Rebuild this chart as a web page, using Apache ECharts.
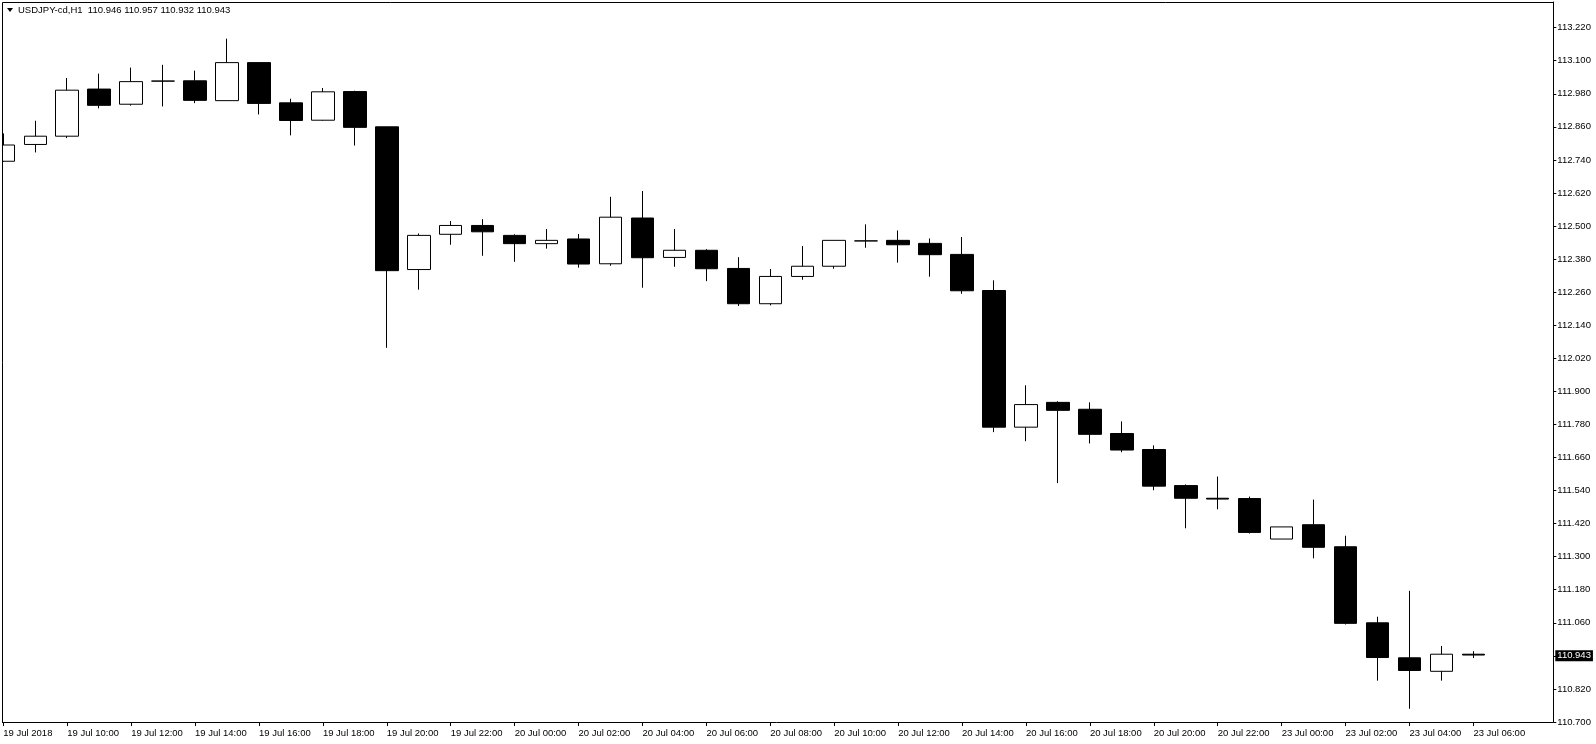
<!DOCTYPE html>
<html>
<head>
<meta charset="utf-8">
<style>
  html, body { margin: 0; padding: 0; background: #fff; }
  #chart { width: 1596px; height: 744px; }
</style>
<script src="https://cdn.jsdelivr.net/npm/echarts@6/dist/echarts.min.js"></script>
</head>
<body>
<div id="chart"></div>
<script>
// ---- data (USDJPY-cd, H1) ----
const symbolTitle = 'USDJPY-cd,H1';
const firstLabel = '19 Jul 2018';
const times = [
  '19 Jul 08:00','19 Jul 09:00','19 Jul 10:00','19 Jul 11:00','19 Jul 12:00','19 Jul 13:00','19 Jul 14:00','19 Jul 15:00',
  '19 Jul 16:00','19 Jul 17:00','19 Jul 18:00','19 Jul 19:00','19 Jul 20:00','19 Jul 21:00','19 Jul 22:00','19 Jul 23:00',
  '20 Jul 00:00','20 Jul 01:00','20 Jul 02:00','20 Jul 03:00','20 Jul 04:00','20 Jul 05:00','20 Jul 06:00','20 Jul 07:00',
  '20 Jul 08:00','20 Jul 09:00','20 Jul 10:00','20 Jul 11:00','20 Jul 12:00','20 Jul 13:00','20 Jul 14:00','20 Jul 15:00',
  '20 Jul 16:00','20 Jul 17:00','20 Jul 18:00','20 Jul 19:00','20 Jul 20:00','20 Jul 21:00','20 Jul 22:00','20 Jul 23:00',
  '23 Jul 00:00','23 Jul 01:00','23 Jul 02:00','23 Jul 03:00','23 Jul 04:00','23 Jul 05:00','23 Jul 06:00'
];
const opens = [
  112.735,112.796,112.826,112.997,112.942,113.026,113.027,112.955,
  113.093,112.947,112.884,112.988,112.860,112.342,112.470,112.502,
  112.466,112.436,112.453,112.363,112.529,112.386,112.412,112.346,
  112.218,112.317,112.354,112.446,112.448,112.437,112.397,112.266,
  111.770,111.860,111.835,111.747,111.689,111.558,111.512,111.511,
  111.364,111.416,111.336,111.060,110.933,110.884,110.946
];
const highs = [
  112.836,112.882,113.037,113.053,113.075,113.085,113.064,113.180,
  113.095,112.962,113.001,112.991,112.860,112.473,112.518,112.525,
  112.470,112.489,112.471,112.606,112.627,112.489,112.416,112.387,
  112.344,112.427,112.448,112.506,112.484,112.455,112.460,112.303,
  111.922,111.864,111.860,111.791,111.704,111.562,111.591,111.518,
  111.408,111.507,111.376,111.082,111.176,110.976,110.957
];
const lows = [
  112.733,112.767,112.819,112.927,112.937,112.934,112.946,112.955,
  112.905,112.829,112.882,112.792,112.058,112.269,112.432,112.392,
  112.370,112.418,112.349,112.356,112.276,112.352,112.300,112.210,
  112.212,112.305,112.345,112.421,112.367,112.316,112.254,111.752,
  111.719,111.567,111.711,111.679,111.541,111.403,111.472,111.384,
  111.364,111.294,111.054,110.850,110.748,110.850,110.932
];
const closes = [
  112.794,112.826,112.993,112.938,113.024,113.026,112.956,113.093,
  112.945,112.883,112.987,112.858,112.338,112.466,112.502,112.479,
  112.436,112.448,112.362,112.532,112.385,112.412,112.345,112.218,
  112.317,112.354,112.448,112.446,112.432,112.396,112.265,111.770,
  111.852,111.831,111.744,111.687,111.556,111.512,111.509,111.388,
  111.408,111.334,111.058,110.934,110.887,110.946,110.943
];
// y axis ticks
const yMin = 110.700;
const yMax = 113.313;
const yStep = 0.120;
// empty bars of right-side chart shift
const shiftBars = 2;

// ---- build ----
const categories = times.concat(new Array(shiftBars).fill(''));
const candles = times.map((t, i) => [opens[i], closes[i], lows[i], highs[i]]);
const last = times.length - 1;
const FONT = 'Liberation Sans';
const FS = 9.5;

const chart = echarts.init(document.getElementById('chart'), null, { renderer: 'canvas' });

const tickShown = (idx) => idx % 2 === 0 && idx < times.length;

chart.setOption({
  animation: false,
  backgroundColor: '#ffffff',
  grid: {
    left: -12.68, right: 42.7, top: 2, bottom: 22,
    containLabel: false, outerBoundsMode: 'none', show: false
  },
  xAxis: {
    type: 'category',
    data: categories,
    boundaryGap: true,
    axisLine: { show: true, lineStyle: { color: '#000', width: 1 } },
    axisTick: {
      show: true, alignWithLabel: true, length: 4, inside: false,
      interval: (idx) => tickShown(idx),
      lineStyle: { color: '#000', width: 1 }
    },
    axisLabel: {
      show: true,
      interval: (idx) => tickShown(idx),
      formatter: (v, idx) => (idx === 0 ? firstLabel : v),
      align: 'left',
      margin: 6,
      color: '#000',
      fontFamily: FONT,
      fontSize: FS
    },
    splitLine: { show: false }
  },
  yAxis: {
    type: 'value',
    position: 'right',
    min: yMin, max: yMax, interval: yStep,
    scale: true,
    axisLine: { show: true, lineStyle: { color: '#000', width: 1 } },
    axisTick: { show: true, inside: false, length: 3, lineStyle: { color: '#000', width: 1 } },
    axisLabel: {
      show: true, showMaxLabel: false, showMinLabel: true,
      margin: 4, color: '#000', fontFamily: FONT, fontSize: FS,
      formatter: (v) => v.toFixed(3)
    },
    splitLine: { show: false }
  },
  series: [{
    type: 'candlestick',
    data: candles,
    barWidth: 23,
    clip: true,
    itemStyle: {
      color: '#ffffff',
      color0: '#000000',
      borderColor: '#000000',
      borderColor0: '#000000',
      borderColorDoji: '#000000',
      borderWidth: 1
    },
    markLine: {
      silent: true,
      symbol: ['none', 'none'],
      lineStyle: { color: 'rgba(0,0,0,0)', width: 0 },
      data: [{ yAxis: closes[last] }],
      label: {
        show: true,
        position: 'end',
        distance: 2,
        formatter: () => closes[last].toFixed(3),
        color: '#fff',
        backgroundColor: '#000',
        padding: [1, 2, 0, 2],
        fontFamily: FONT,
        fontSize: FS
      }
    }
  }],
  graphic: [
    { type: 'rect', shape: { x: 0, y: 0, width: 2, height: 744 }, style: { fill: '#fff' }, z: 100, silent: true },
    { type: 'line', shape: { x1: 2.5, y1: 2.5, x2: 1553.5, y2: 2.5 }, style: { stroke: '#000', lineWidth: 1 }, z: 101, silent: true },
    { type: 'line', shape: { x1: 2.5, y1: 2.5, x2: 2.5, y2: 722 }, style: { stroke: '#000', lineWidth: 1 }, z: 101, silent: true },
    { type: 'polygon', shape: { points: [[7, 8], [13, 8], [10, 12]] }, style: { fill: '#000' }, z: 101, silent: true },
    {
      type: 'text', x: 18, y: 10, z: 101, silent: true,
      style: {
        text: symbolTitle + '  ' + [opens[last], highs[last], lows[last], closes[last]].map(v => v.toFixed(3)).join(' '),
        fill: '#000', font: FS + 'px "' + FONT + '"', verticalAlign: 'middle', align: 'left'
      }
    }
  ]
});
</script>
</body>
</html>
